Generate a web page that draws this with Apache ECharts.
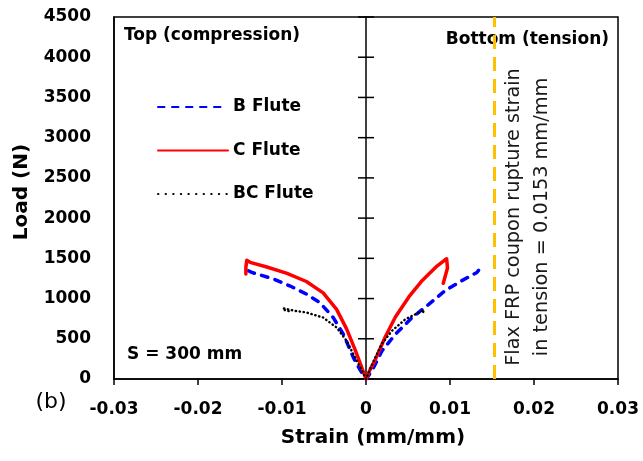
<!DOCTYPE html>
<html>
<head>
<meta charset="utf-8">
<script src="https://cdn.jsdelivr.net/npm/echarts@6/dist/echarts.min.js"></script>
<style>
  html, body { margin: 0; padding: 0; background: #fff; }
  #chart { width: 643px; height: 461px; }
</style>
</head>
<body>
<div id="chart"></div>
<script>
// Load–strain response of the three flute types, S = 300 mm span.
// Each branch is [strain (mm/mm), load (N)], starting at the origin.
const bFluteTop = [[0, 0], [-0.0008, 130], [-0.0015, 266], [-0.0027, 557], [-0.0039, 764], [-0.0055, 951], [-0.0071, 1056], [-0.0091, 1159], [-0.0110, 1243], [-0.0136, 1325], [-0.0140, 1346]];
const bFluteBottom = [[0, 0], [0.0007, 100], [0.0019, 349], [0.0035, 557], [0.0055, 764], [0.0075, 931], [0.0094, 1097], [0.0114, 1222], [0.0132, 1325], [0.0134, 1350]];

const cFluteTop = [[0, 0], [-0.0006, 170], [-0.0013, 365], [-0.0023, 620], [-0.0035, 865], [-0.0051, 1070], [-0.0071, 1212], [-0.0094, 1313], [-0.0118, 1392], [-0.0138, 1450], [-0.0142, 1475], [-0.0143, 1390], [-0.0143, 1305]];
const cFluteBottom = [[0, 0], [0.0005, 120], [0.0011, 240], [0.0023, 525], [0.0035, 770], [0.0051, 1020], [0.0067, 1225], [0.0083, 1390], [0.0096, 1495], [0.0098, 1510], [0.0097, 1380], [0.0092, 1190]];

const bcFluteTop = [[0, 0], [-0.0005, 110], [-0.0011, 224], [-0.0023, 474], [-0.0035, 640], [-0.0051, 764], [-0.0071, 827], [-0.0085, 848], [-0.0097, 875], [-0.0099, 880], [-0.0096, 850], [-0.0092, 845]];
const bcFluteBottom = [[0, 0], [0.0008, 200], [0.0019, 440], [0.0031, 600], [0.0047, 744], [0.0059, 806], [0.0069, 860], [0.0070, 880], [0.0068, 830]];

const seriesNames = ['B Flute', 'C Flute', 'BC Flute'];
const ruptureStrain = 0.0153;

const strainRange = [-0.03, 0.03];
const strainStep = 0.01;
const loadRange = [0, 4500];
const loadStep = 500;
// tick marks crossing the zero-strain line
const zeroLineTicks = [0, 500, 1000, 1500, 2000, 2500, 3000, 3500, 4000, 4500];

// Join the compression branch (walked back to the origin) with the tension branch.
function joinBranches(top, bottom) {
  return top.slice().reverse().concat(bottom.slice(1));
}

const FONT = '"DejaVu Sans", sans-serif';
const GRID = { left: 114, right: 25, top: 17, bottom: 82 };
const CHART_W = 643;
const TICK_HALF = 8;
const chart = echarts.init(document.getElementById('chart'), null, { renderer: 'canvas' });

const black = () => ({ color: '#000', width: 1.5 });
// Pixel shift that brings a left y axis onto the zero-strain line.
const plotW = CHART_W - GRID.left - GRID.right;
const zeroShift = plotW * (0 - strainRange[0]) / (strainRange[1] - strainRange[0]);

chart.setOption({
  animation: false,
  backgroundColor: '#fff',
  grid: Object.assign({ show: true, borderColor: '#000', borderWidth: 1.5, backgroundColor: 'transparent' }, GRID),
  xAxis: {
    type: 'value',
    min: strainRange[0], max: strainRange[1], interval: strainStep,
    axisLine: { show: true, onZero: false, lineStyle: black() },
    axisTick: { show: true, inside: false, length: 6, lineStyle: black() },
    splitLine: { show: false },
    axisLabel: {
      margin: 22, color: '#000', fontFamily: FONT, fontWeight: 'bold', fontSize: 17,
      formatter: v => (Math.abs(v) < 1e-9 ? '0' : String(+v.toFixed(2)))
    }
  },
  yAxis: [
    {
      type: 'value', position: 'left',
      min: loadRange[0], max: loadRange[1], interval: loadStep,
      axisLine: { show: true, onZero: false, lineStyle: black() },
      axisTick: { show: false },
      splitLine: { show: false },
      axisLabel: { margin: 23, color: '#000', fontFamily: FONT, fontWeight: 'bold', fontSize: 17, formatter: v => String(v) }
    },
    {
      // zero-strain line
      type: 'value', position: 'left', offset: -zeroShift,
      min: loadRange[0], max: loadRange[1], interval: loadStep,
      axisLine: { show: true, onZero: false, lineStyle: black() },
      axisTick: { show: false },
      axisLabel: { show: false },
      splitLine: { show: false }
    }
  ],
  legend: {
    orient: 'vertical',
    left: 157, top: 97, padding: 0,
    itemWidth: 70, itemHeight: 14, itemGap: 23.5,
    itemStyle: { opacity: 0 },
    textStyle: { fontFamily: FONT, fontWeight: 'bold', fontSize: 17, color: '#000', lineHeight: 20 },
    data: [
      { name: seriesNames[0] },
      { name: seriesNames[1] },
      { name: seriesNames[2], lineStyle: { type: [0.4, 7.2], width: 2, cap: 'round' } }
    ]
  },
  series: [
    {
      name: seriesNames[0], type: 'line', symbol: 'none',
      data: joinBranches(bFluteTop, bFluteBottom),
      lineStyle: { color: '#0000ff', width: 3.5, type: [6.5, 7.5], cap: 'round', join: 'round' },
      itemStyle: { color: '#0000ff' },
      z: 2
    },
    {
      name: seriesNames[1], type: 'line', symbol: 'none',
      data: joinBranches(cFluteTop, cFluteBottom),
      lineStyle: { color: '#ff0000', width: 3.5, type: 'solid', cap: 'round', join: 'round' },
      itemStyle: { color: '#ff0000' },
      z: 3
    },
    {
      name: seriesNames[2], type: 'line', symbol: 'none',
      data: joinBranches(bcFluteTop, bcFluteBottom),
      lineStyle: { color: '#000', width: 2.4, type: [0.4, 3.6], cap: 'round', join: 'round' },
      itemStyle: { color: '#000' },
      z: 4
    },
    {
      // coupon rupture strain in tension
      name: 'rupture', type: 'line', symbol: 'none', silent: true,
      data: [[ruptureStrain, loadRange[0]], [ruptureStrain, loadRange[1]]],
      lineStyle: { color: '#ffc000', width: 3, type: [14, 8] },
      z: 1
    },
    {
      // cross ticks on the zero-strain line
      name: 'zeroTicks', type: 'custom', silent: true, clip: false,
      data: zeroLineTicks.map(v => [0, v]),
      renderItem: (params, api) => {
        const p = api.coord([api.value(0), api.value(1)]);
        return {
          type: 'line',
          shape: { x1: p[0] - TICK_HALF, y1: p[1], x2: p[0] + TICK_HALF, y2: p[1] },
          style: { stroke: '#000', lineWidth: 1.5 }
        };
      },
      z: 1
    }
  ],
  graphic: [
    { type: 'text', x: 124, y: 36, style: { text: 'Top (compression)', font: 'bold 17px ' + FONT, fill: '#000', align: 'left', verticalAlign: 'middle' } },
    { type: 'text', x: 609, y: 40, style: { text: 'Bottom (tension)', font: 'bold 17px ' + FONT, fill: '#000', align: 'right', verticalAlign: 'middle' } },
    { type: 'text', x: 127, y: 355, style: { text: 'S = 300 mm', font: 'bold 17px ' + FONT, fill: '#000', align: 'left', verticalAlign: 'middle' } },
    { type: 'text', x: 51, y: 402, style: { text: '(b)', font: '22px ' + FONT, fill: '#000', align: 'center', verticalAlign: 'middle' } },
    { type: 'text', x: 22, y: 192, rotation: Math.PI / 2, style: { text: 'Load (N)', font: 'bold 20px ' + FONT, fill: '#000', align: 'center', verticalAlign: 'middle' } },
    { type: 'text', x: 373, y: 438, style: { text: 'Strain (mm/mm)', font: 'bold 20px ' + FONT, fill: '#000', align: 'center', verticalAlign: 'middle' } },
    { type: 'text', x: 514, y: 217, rotation: Math.PI / 2, style: { text: 'Flax FRP coupon rupture strain', font: '19.3px ' + FONT, fill: '#1a1a1a', align: 'center', verticalAlign: 'middle' } },
    { type: 'text', x: 542, y: 217, rotation: Math.PI / 2, style: { text: 'in tension = 0.0153 mm/mm', font: '19.3px ' + FONT, fill: '#1a1a1a', align: 'center', verticalAlign: 'middle' } }
  ]
});
</script>
</body>
</html>
